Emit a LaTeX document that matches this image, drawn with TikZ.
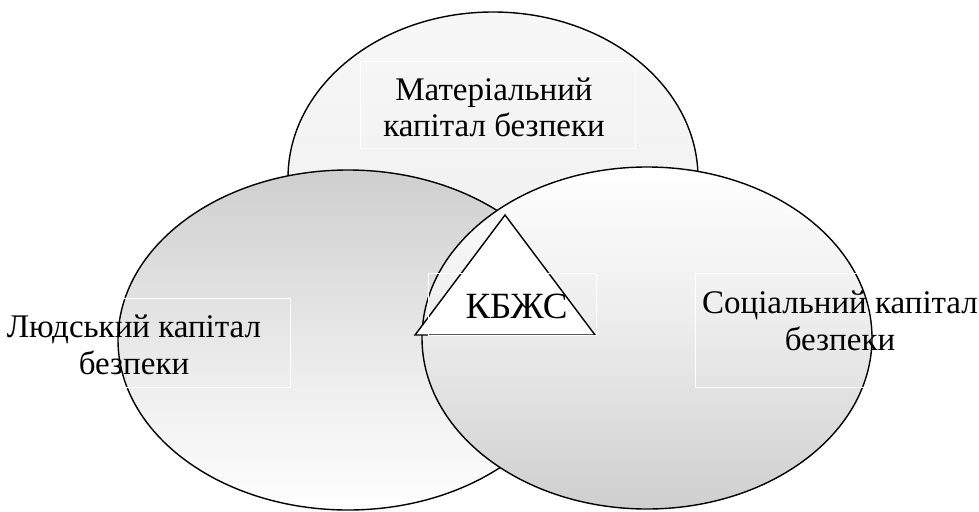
\documentclass[tikz,border=0pt]{standalone}
\usepackage{fontspec}
\setmainfont{Liberation Serif}
\usetikzlibrary{shapes.geometric}
\definecolor{shgray}{gray}{0.81}
\tikzset{
  blob/.style={ellipse, draw=black, line width=1.4pt, inner sep=0pt},
  tri/.style={draw=black, fill=white, line width=1.4pt, line join=miter},
  tbox/.style={draw=white, line width=1pt, inner sep=0pt},
  lbl/.style={font=\fontsize{33}{36.5}\selectfont, align=center, inner sep=0pt, text=black}
}
\begin{document}
\begin{tikzpicture}[x=1pt,y=-1pt]
\useasboundingbox (0,0) rectangle (979,511);
% ellipses
\node[blob, minimum width=410pt, minimum height=332pt, top color=black!3, bottom color=black!7] (M) at (493,178) {};
\node[blob, minimum width=460pt, minimum height=340pt, top color=shgray, bottom color=white, middle color=black!9] (L) at (348,340) {};
\node[blob, minimum width=450pt, minimum height=342pt, top color=white, bottom color=shgray, middle color=black!8] (S) at (647,338) {};
% triangle
\draw[tri] (505,215) -- (595,335) -- (415,335) -- cycle;
% faint text boxes
\node[tbox, minimum width=275pt, minimum height=86pt] (bM) at (497.5,105) {};
\node[tbox, minimum width=300pt, minimum height=89pt] (bL) at (140,342.5) {};
\node[tbox, minimum width=280pt, minimum height=114pt] (bS) at (835,330) {};
\node[tbox, minimum width=168pt, minimum height=62pt] (bK) at (512,304) {};
% labels
\node[lbl] (tM) at (494,107.5) {Матеріальний\\капітал безпеки};
\node[lbl] (tL) at (134,345) {Людський капітал\\безпеки};
\node[lbl] (tS) at (840,321) {Соціальний капітал\\безпеки};
\node[lbl, font=\fontsize{37}{40}\selectfont, anchor=base] (tK) at (516.5,318) {КБЖС};
\end{tikzpicture}
\end{document}
